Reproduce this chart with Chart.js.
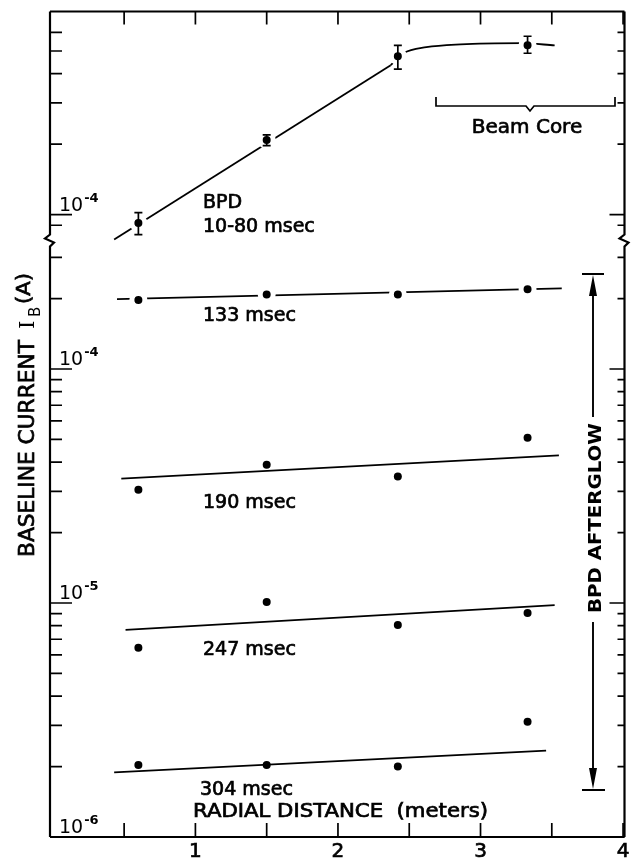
<!DOCTYPE html>
<html>
<head>
<meta charset="utf-8">
<script src="https://cdn.jsdelivr.net/npm/chart.js@4.4.1/dist/chart.umd.min.js"></script>
<style>
  html, body { margin: 0; padding: 0; background: #fff; }
  #wrap { width: 636px; height: 865px; }
</style>
</head>
<body>
<div id="wrap"><canvas id="chart" width="636" height="865"></canvas></div>
<script>
// probe positions (meters)
const radius = [0.6, 1.5, 2.42, 3.33];

// BPD 10-80 msec, upper panel (amperes) with error bars
const bpdCurrent = [9.2e-5, 2.08e-4, 4.75e-4, 5.29e-4];
const bpdLow = [8.2e-5, 1.97e-4, 4.18e-4, 4.89e-4];
const bpdHigh = [1.02e-4, 2.19e-4, 5.28e-4, 5.78e-4];
// hand drawn line through the BPD points: straight rise, then a bend
const bpdRiseX = [0.43, 2.37], bpdRiseY = [7.83e-5, 4.35e-4];
const bpdBendX = [2.37, 2.46, 2.62, 2.86, 3.29, 3.52];
const bpdBendY = [4.35e-4, 4.89e-4, 5.19e-4, 5.34e-4, 5.40e-4, 5.28e-4];

// afterglow, lower panel (amperes)
const after133 = [1.97e-4, 2.08e-4, 2.08e-4, 2.19e-4];
const after190 = [3.05e-5, 3.90e-5, 3.47e-5, 5.08e-5];
const after247 = [6.44e-6, 1.01e-5, 8.05e-6, 9.06e-6];
const after304 = [2.03e-6, 2.03e-6, 2.0e-6, 3.11e-6];

// fitted lines, end points
const fit133X = [0.45, 3.57], fit133Y = [1.99e-4, 2.21e-4];
const fit190X = [0.48, 3.55], fit190Y = [3.40e-5, 4.27e-5];
const fit247X = [0.51, 3.52], fit247Y = [7.67e-6, 9.80e-6];
const fit304X = [0.43, 3.46], fit304Y = [1.89e-6, 2.34e-6];

// axis ticks
const xTicks = [0.5, 1, 1.5, 2, 2.5, 3, 3.5, 4];
const xLabels = [1, 2, 3, 4];
const lowerTicks = [1e-6, 2e-6, 3e-6, 4e-6, 5e-6, 6e-6, 7e-6, 8e-6, 9e-6,
  1e-5, 2e-5, 3e-5, 4e-5, 5e-5, 6e-5, 7e-5, 8e-5, 9e-5, 1e-4, 2e-4, 3e-4];
const upperTicks = [9e-5, 1e-4, 2e-4, 3e-4, 4e-4, 5e-4, 6e-4];
const lowerDecades = [1e-6, 1e-5, 1e-4];
const upperDecades = [1e-4];

// upper panel sits above the axis break, displaced by this factor
const upperShift = 4.57;
const breakAt = 3.54e-4;

const pts = (xs, ys, k = 1) => xs.map((x, i) => ({ x: x, y: ys[i] * k }));

function dots(data, ring) {
  return {
    data: data, showLine: false, order: 0,
    pointRadius: ring ? 6.5 : 4, pointBorderWidth: ring ? 5 : 0,
    pointBackgroundColor: '#000', pointBorderColor: '#fff'
  };
}
function line(data, curve) {
  return {
    data: data, showLine: true, order: 1, pointRadius: 0,
    borderColor: '#000', borderWidth: 1.8,
    cubicInterpolationMode: curve ? 'monotone' : 'default'
  };
}

// text, optionally stretched to a given width
function txt(ctx, s, x, y, size, align, fit, weight) {
  ctx.save();
  ctx.font = (weight || 'normal') + ' ' + size + 'px "DejaVu Sans"';
  ctx.textAlign = align || 'left';
  ctx.textBaseline = 'middle';
  ctx.translate(x, y);
  if (fit) ctx.scale(fit / ctx.measureText(s).width, 1);
  ctx.fillText(s, 0, 0);
  ctx.lineWidth = 0.7;
  ctx.strokeText(s, 0, 0);
  ctx.restore();
}

function decadeLabel(ctx, v, py) {
  const e = Math.round(Math.log10(v));
  ctx.textAlign = 'left';
  ctx.textBaseline = 'alphabetic';
  ctx.font = '19px "DejaVu Sans"';
  ctx.fillText('10', 59, py - 4);
  const w = ctx.measureText('10').width;
  ctx.font = 'bold 13px "DejaVu Sans"';
  ctx.fillText('-' + Math.abs(e), 59 + w + 1, py - 13);
}

const decor = {
  id: 'decor',
  afterDraw(chart) {
    const { ctx, chartArea: a, scales: { x, y } } = chart;
    ctx.save();
    ctx.strokeStyle = '#000';
    ctx.fillStyle = '#000';
    ctx.lineCap = 'butt';

    // frame, left and right sides broken with a zigzag
    const yb = y.getPixelForValue(breakAt);
    ctx.lineWidth = 2.2;
    ctx.beginPath();
    ctx.moveTo(a.left, a.bottom); ctx.lineTo(a.right, a.bottom);
    ctx.moveTo(a.left, a.top); ctx.lineTo(a.right, a.top);
    for (const sx of [a.left, a.right]) {
      ctx.moveTo(sx, a.top); ctx.lineTo(sx, yb - 6);
      ctx.lineTo(sx - 5, yb - 2); ctx.lineTo(sx + 4, yb + 2); ctx.lineTo(sx, yb + 6);
      ctx.lineTo(sx, a.bottom);
    }
    ctx.stroke();

    // y ticks (inward), both panels
    ctx.lineWidth = 1.7;
    ctx.beginPath();
    const yTick = (py, major) => {
      ctx.moveTo(a.left, py); ctx.lineTo(a.left + (major ? 22 : 12), py);
      ctx.moveTo(a.right, py); ctx.lineTo(a.right - (major ? 15 : 7), py);
    };
    lowerTicks.forEach(v => yTick(y.getPixelForValue(v), lowerDecades.includes(v)));
    upperTicks.forEach(v => yTick(y.getPixelForValue(v * upperShift), upperDecades.includes(v)));
    // x ticks top and bottom
    xTicks.forEach(v => {
      const px = x.getPixelForValue(v);
      ctx.moveTo(px, a.top); ctx.lineTo(px, a.top + 13);
      ctx.moveTo(px, a.bottom); ctx.lineTo(px, a.bottom - 14);
    });
    ctx.stroke();

    // decade labels
    lowerDecades.forEach(v => decadeLabel(ctx, v, y.getPixelForValue(v)));
    upperDecades.forEach(v => decadeLabel(ctx, v, y.getPixelForValue(v * upperShift)));

    // x tick labels
    xLabels.forEach(v => txt(ctx, String(v), x.getPixelForValue(v), a.bottom + 15, 20, 'center'));

    // error bars of the BPD points
    ctx.lineWidth = 1.7;
    ctx.beginPath();
    radius.forEach((r, i) => {
      const px = x.getPixelForValue(r);
      const lo = y.getPixelForValue(bpdLow[i] * upperShift);
      const hi = y.getPixelForValue(bpdHigh[i] * upperShift);
      ctx.moveTo(px, lo); ctx.lineTo(px, hi);
      ctx.moveTo(px - 4, lo); ctx.lineTo(px + 4, lo);
      ctx.moveTo(px - 4, hi); ctx.lineTo(px + 4, hi);
    });
    ctx.stroke();

    // series labels
    txt(ctx, 'BPD', 203, 203, 19);
    txt(ctx, '10-80 msec', 203, 227, 19);
    txt(ctx, '133 msec', 203, 316, 19);
    txt(ctx, '190 msec', 203, 503, 19);
    txt(ctx, '247 msec', 203, 650, 19);
    txt(ctx, '304 msec', 200, 790, 19);
    txt(ctx, 'RADIAL DISTANCE  (meters)', 193, 812, 19, 'left', 295);

    // axis title, read bottom to top
    ctx.save();
    ctx.translate(34, 557);
    ctx.rotate(-Math.PI / 2);
    ctx.textAlign = 'left';
    ctx.textBaseline = 'alphabetic';
    ctx.lineWidth = 0.7;
    ctx.font = '21px "DejaVu Sans"';
    const t1 = 'BASELINE CURRENT';
    ctx.save();
    ctx.scale(217 / ctx.measureText(t1).width, 1);
    ctx.fillText(t1, 0, 0);
    ctx.strokeText(t1, 0, 0);
    ctx.restore();
    ctx.font = '21px "DejaVu Serif"';
    ctx.fillText('I', 228, 0);
    ctx.font = '15px "DejaVu Sans"';
    ctx.fillText('B', 240, 6);
    ctx.font = '20px "DejaVu Sans"';
    ctx.save();
    ctx.translate(253, -4);
    ctx.scale(31 / ctx.measureText('(A)').width, 1);
    ctx.fillText('(A)', 0, 0);
    ctx.strokeText('(A)', 0, 0);
    ctx.restore();
    ctx.restore();

    // beam core bracket
    ctx.lineWidth = 1.7;
    ctx.beginPath();
    ctx.moveTo(436, 97); ctx.lineTo(436, 106); ctx.lineTo(526, 106);
    ctx.lineTo(530, 111); ctx.lineTo(534, 106); ctx.lineTo(615, 106); ctx.lineTo(615, 97);
    ctx.stroke();
    txt(ctx, 'Beam Core', 527, 128, 20, 'center');

    // BPD afterglow arrow
    const ax = 593;
    ctx.lineWidth = 1.9;
    ctx.beginPath();
    ctx.moveTo(582, 274); ctx.lineTo(604, 274);
    ctx.moveTo(ax, 292); ctx.lineTo(ax, 417);
    ctx.moveTo(ax, 622); ctx.lineTo(ax, 772);
    ctx.moveTo(582, 790); ctx.lineTo(605, 790);
    ctx.stroke();
    ctx.beginPath();
    ctx.moveTo(ax, 275); ctx.lineTo(ax - 4, 296); ctx.lineTo(ax + 4, 296); ctx.closePath();
    ctx.moveTo(ax, 789); ctx.lineTo(ax - 4, 768); ctx.lineTo(ax + 4, 768); ctx.closePath();
    ctx.fill();
    ctx.save();
    ctx.translate(601, 518);
    ctx.rotate(-Math.PI / 2);
    ctx.font = 'bold 18px "DejaVu Sans"';
    ctx.textAlign = 'center';
    ctx.textBaseline = 'alphabetic';
    ctx.scale(190 / ctx.measureText('BPD AFTERGLOW').width, 1);
    ctx.fillText('BPD AFTERGLOW', 0, 0);
    ctx.restore();

    ctx.restore();
  }
};

new Chart(document.getElementById('chart'), {
  type: 'scatter',
  data: {
    datasets: [
      dots(pts(radius, bpdCurrent, upperShift), true),
      dots(pts(radius, after133), true),
      dots(pts(radius, after190)),
      dots(pts(radius, after247)),
      dots(pts(radius, after304)),
      line(pts(bpdRiseX, bpdRiseY, upperShift)),
      line(pts(bpdBendX, bpdBendY, upperShift), true),
      line(pts(fit133X, fit133Y)),
      line(pts(fit190X, fit190Y)),
      line(pts(fit247X, fit247Y)),
      line(pts(fit304X, fit304Y))
    ]
  },
  options: {
    responsive: false,
    animation: false,
    devicePixelRatio: 1,
    events: [],
    layout: { padding: { left: 50, top: 8, right: 3, bottom: 28 } },
    plugins: { legend: { display: false }, tooltip: { enabled: false } },
    scales: {
      x: { type: 'linear', min: -0.02, max: 4.01, display: false },
      y: { type: 'logarithmic', min: 1e-6, max: 3.37e-3, display: false }
    }
  },
  plugins: [decor]
});
</script>
</body>
</html>
